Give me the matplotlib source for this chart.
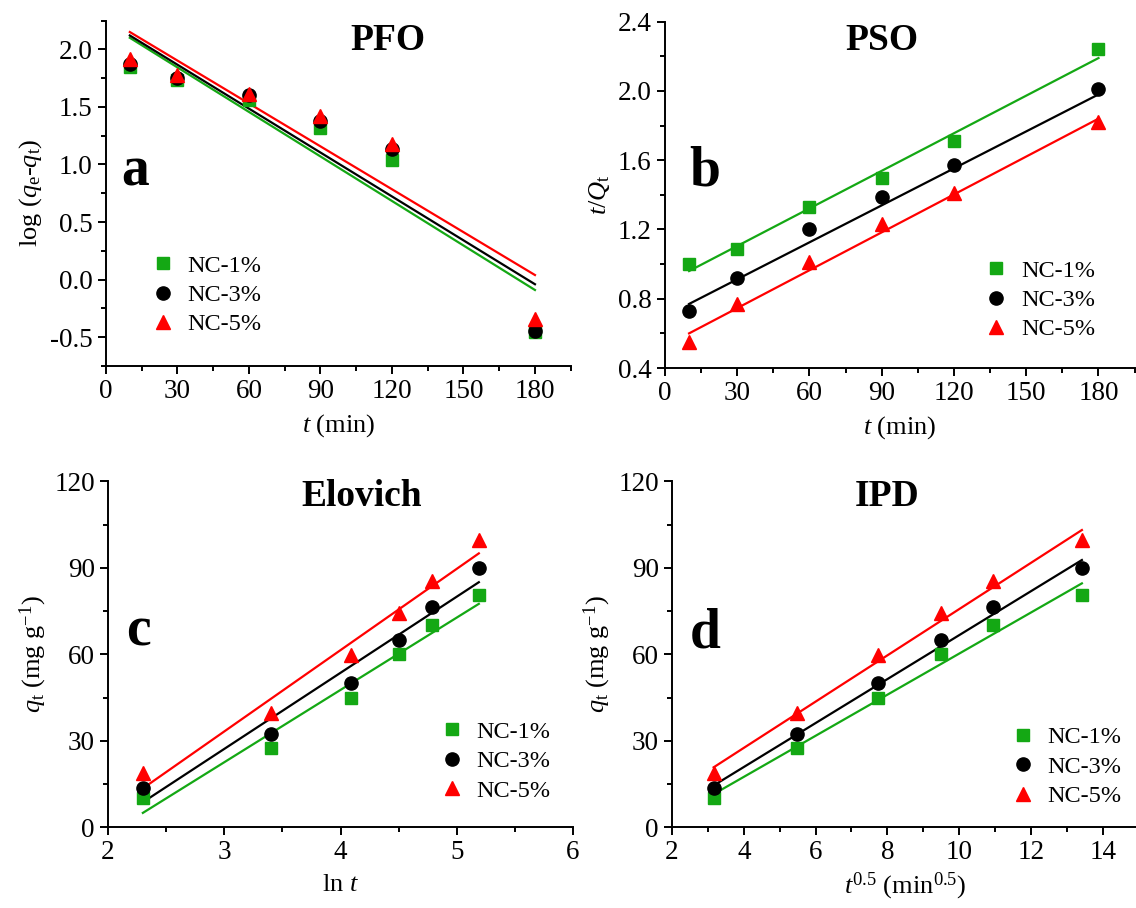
import numpy as np
import matplotlib
matplotlib.use('Agg')
import matplotlib.pyplot as plt
from matplotlib.ticker import MultipleLocator, FormatStrFormatter

plt.rcParams['font.family'] = 'Liberation Serif'
plt.rcParams['mathtext.fontset'] = 'custom'
plt.rcParams['mathtext.rm'] = 'Liberation Serif'
plt.rcParams['mathtext.it'] = 'Liberation Serif:italic'
plt.rcParams['mathtext.bf'] = 'Liberation Serif:bold'
plt.rcParams['axes.unicode_minus'] = False

# ---- data ----
t = [10, 30, 60, 90, 120, 180]
lnt = [2.30, 3.40, 4.09, 4.50, 4.79, 5.19]
sqrt_t = [3.16, 5.48, 7.75, 9.49, 10.95, 13.42]
labels = ['NC-1%', 'NC-3%', 'NC-5%']

# PFO: log(qe-qt)
pfo_1 = [1.85, 1.73, 1.56, 1.32, 1.04, -0.455]
pfo_3 = [1.87, 1.75, 1.60, 1.38, 1.13, -0.45]
pfo_5 = [1.92, 1.78, 1.61, 1.42, 1.18, -0.34]
pfo_fit_x = [10, 180]
pfo_fit_1 = [2.10, -0.09]
pfo_fit_3 = [2.12, -0.04]
pfo_fit_5 = [2.15, 0.04]

# PSO: t/Qt
pso_1 = [1.00, 1.09, 1.33, 1.50, 1.71, 2.24]
pso_3 = [0.73, 0.92, 1.20, 1.39, 1.57, 2.01]
pso_5 = [0.55, 0.77, 1.01, 1.23, 1.41, 1.82]
pso_fit_x = [10, 180]
pso_fit_1 = [0.96, 2.19]
pso_fit_3 = [0.77, 1.98]
pso_fit_5 = [0.60, 1.84]

# qt (mg/g), used by Elovich and IPD
qt_1 = [10.0, 27.5, 45.0, 60.0, 70.0, 80.5]
qt_3 = [13.8, 32.5, 50.0, 64.8, 76.5, 89.8]
qt_5 = [18.7, 39.8, 59.6, 74.2, 85.3, 99.8]

elo_fit_x = [2.30, 5.19]
elo_fit_1 = [5.0, 77.5]
elo_fit_3 = [8.7, 85.0]
elo_fit_5 = [13.5, 95.0]

ipd_fit_x = [3.16, 13.42]
ipd_fit_1 = [11.5, 84.6]
ipd_fit_3 = [14.5, 92.7]
ipd_fit_5 = [20.8, 103.1]

green = '#14a814'
colors = [green, 'black', 'red']
markers = ['s', 'o', '^']
msizes = [8.5, 9.5, 10]

W, H = 1136, 908
fig = plt.figure(figsize=(W / 100, H / 100), dpi=100)


def add_ax(l, r, top, bot):
    return fig.add_axes([l / W, 1 - bot / H, (r - l) / W, (bot - top) / H])


def style(ax):
    for s in ['top', 'right']:
        ax.spines[s].set_visible(False)
    for s in ['left', 'bottom']:
        ax.spines[s].set_linewidth(1.4)
    ax.tick_params(which='both', direction='out', width=1.4, labelsize=19.5)
    ax.tick_params(which='major', length=6)
    ax.tick_params(which='minor', length=3.5)


def panel(ax, x, ys, fx, fits, leg_xy):
    hs = []
    for y, c, m, ms, lab in zip(ys, colors, markers, msizes, labels):
        h, = ax.plot(x, y, m, color=c, ms=ms, mec=c, linestyle='none', label=lab, zorder=3)
        hs.append(h)
    for fy, c in zip(fits, colors):
        ax.plot(fx, fy, '-', color=c, lw=1.6, zorder=2)
    ax.legend(handles=hs, loc='center left', bbox_to_anchor=leg_xy, frameon=False,
              borderpad=0, borderaxespad=0, handlelength=1.0, handletextpad=0.5,
              labelspacing=0.3, fontsize=17.5)
    style(ax)


def ftext(x, y, s, **kw):
    fig.text(x / W, 1 - y / H, s, **kw)


# a: PFO
ax = add_ax(106, 570.7, 20.5, 366)
panel(ax, t, [pfo_1, pfo_3, pfo_5], pfo_fit_x, [pfo_fit_1, pfo_fit_3, pfo_fit_5], (0.096, 0.205))
ax.set_xlim(0, 195)
ax.set_ylim(-0.75, 2.25)
ax.set_xticks([0, 30, 60, 90, 120, 150, 180])
ax.xaxis.set_minor_locator(MultipleLocator(15))
ax.yaxis.set_major_locator(MultipleLocator(0.5))
ax.yaxis.set_minor_locator(MultipleLocator(0.25))
ax.yaxis.set_major_formatter(FormatStrFormatter('%.1f'))
ax.set_xlabel(r'$t$ (min)', fontsize=19, labelpad=6)
ax.set_ylabel(r'log ($q_{\rm e}$-$q_{\rm t}$)', fontsize=19)

# b: PSO
ax = add_ax(665, 1134.6, 21.7, 368)
panel(ax, t, [pso_1, pso_3, pso_5], pso_fit_x, [pso_fit_1, pso_fit_3, pso_fit_5], (0.680, 0.196))
ax.set_xlim(0, 195)
ax.set_ylim(0.4, 2.4)
ax.set_xticks([0, 30, 60, 90, 120, 150, 180])
ax.xaxis.set_minor_locator(MultipleLocator(15))
ax.yaxis.set_major_locator(MultipleLocator(0.4))
ax.yaxis.set_minor_locator(MultipleLocator(0.2))
ax.yaxis.set_major_formatter(FormatStrFormatter('%.1f'))
ax.set_xlabel(r'$t$ (min)', fontsize=19, labelpad=6)
ax.set_ylabel(r'$t$/$Q_{\rm t}$', fontsize=19)

# c: Elovich
ax = add_ax(108, 573, 481.3, 827.3)
panel(ax, lnt, [qt_1, qt_3, qt_5], elo_fit_x, [elo_fit_1, elo_fit_3, elo_fit_5], (0.714, 0.191))
ax.set_xlim(2, 6)
ax.set_ylim(0, 120)
ax.xaxis.set_major_locator(MultipleLocator(1))
ax.xaxis.set_minor_locator(MultipleLocator(0.5))
ax.yaxis.set_major_locator(MultipleLocator(30))
ax.yaxis.set_minor_locator(MultipleLocator(15))
ax.set_xlabel(r'ln $t$', fontsize=19, labelpad=6)
ax.set_ylabel(r'$q_{\rm t}$ (mg g$^{-1}$)', fontsize=19)

# d: IPD
ax = add_ax(672, 1138.6, 481.3, 827.3)
panel(ax, sqrt_t, [qt_1, qt_3, qt_5], ipd_fit_x, [ipd_fit_1, ipd_fit_3, ipd_fit_5], (0.7255, 0.175))
ax.set_xlim(2, 15)
ax.set_ylim(0, 120)
ax.set_xticks([2, 4, 6, 8, 10, 12, 14])
ax.xaxis.set_minor_locator(MultipleLocator(1))
ax.yaxis.set_major_locator(MultipleLocator(30))
ax.yaxis.set_minor_locator(MultipleLocator(15))
ax.set_xlabel(r'$t^{0.5}$ (min$^{0.5}$)', fontsize=19, labelpad=4)
ax.set_ylabel(r'$q_{\rm t}$ (mg g$^{-1}$)', fontsize=19)

# model names and panel letters
ftext(388, 41, 'PFO', fontsize=27, fontweight='bold', ha='center', va='center')
ftext(882, 40, 'PSO', fontsize=27, fontweight='bold', ha='center', va='center')
ftext(362, 496, 'Elovich', fontsize=27, fontweight='bold', ha='center', va='center')
ftext(887, 496, 'IPD', fontsize=27, fontweight='bold', ha='center', va='center')
ftext(135, 185, 'a', fontsize=40, fontweight='bold', ha='center', va='baseline')
ftext(705, 185, 'b', fontsize=40, fontweight='bold', ha='center', va='baseline')
ftext(138, 646, 'c', fontsize=40, fontweight='bold', ha='center', va='baseline')
ftext(705, 647, 'd', fontsize=40, fontweight='bold', ha='center', va='baseline')

plt.savefig('out.png', dpi=100)
